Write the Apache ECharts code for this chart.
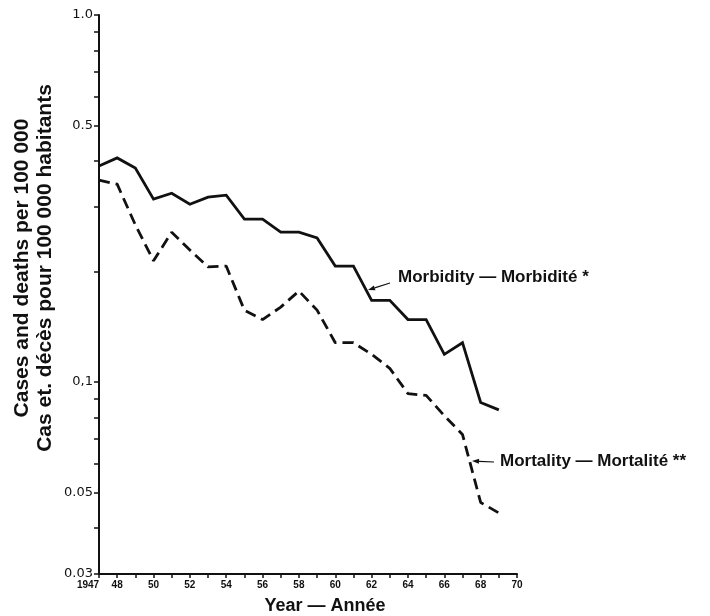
<!DOCTYPE html>
<html>
<head>
    <meta charset="utf-8">
    <title>Morbidity and mortality 1947-1969</title>
    <script src="https://cdn.jsdelivr.net/npm/echarts@6/dist/echarts.min.js"></script>
    <style type="text/css">
        html, body { margin: 0; padding: 0; background: #fff; }
        #main { width: 710px; height: 616px; }
    </style>
</head>
<body>
<div id="main"></div>
<script>
    // data (log scale)
    var years = [1947, 1948, 1949, 1950, 1951, 1952, 1953, 1954, 1955, 1956, 1957, 1958,
        1959, 1960, 1961, 1962, 1963, 1964, 1965, 1966, 1967, 1968, 1969];
    var morbidity = [0.388, 0.408, 0.383, 0.315, 0.327, 0.305, 0.319, 0.323, 0.278, 0.278, 0.256, 0.256,
        0.247, 0.207, 0.207, 0.167, 0.167, 0.148, 0.148, 0.119, 0.128, 0.088, 0.084];
    var mortality = [0.355, 0.346, 0.268, 0.214, 0.256, 0.229, 0.206, 0.207, 0.157, 0.148, 0.160, 0.177,
        0.157, 0.128, 0.128, 0.119, 0.109, 0.093, 0.092, 0.081, 0.072, 0.047, 0.044];

    // tick labels
    var yLabelValues = [0.03, 0.05, 0.1, 0.5, 1.0];
    var yLabelTexts = ['0.03', '0.05', '0,1', '0.5', '1.0'];
    var yTickValues = [0.03, 0.04, 0.05, 0.06, 0.07, 0.08, 0.09, 0.1, 0.2, 0.3, 0.4, 0.5,
        0.6, 0.7, 0.8, 0.9, 1.0];

    var FONT = '"Liberation Sans", Arial, Helvetica, sans-serif';
    var WIDE = '"DejaVu Sans", sans-serif';

    var chart = echarts.init(document.getElementById('main'), null, {renderer: 'canvas'});

    function pairs(vals) {
        return years.map(function (y, i) { return [y, vals[i]]; });
    }

    // small arrow, head at (tx, ty)
    function arrow(sx, sy, tx, ty) {
        var dx = tx - sx, dy = ty - sy;
        var len = Math.sqrt(dx * dx + dy * dy);
        var ux = dx / len, uy = dy / len;
        var bx = tx - ux * 7, by = ty - uy * 7;
        return [
            {
                type: 'line',
                shape: {x1: sx, y1: sy, x2: bx, y2: by},
                style: {stroke: '#111', lineWidth: 1.2}
            },
            {
                type: 'polygon',
                shape: {points: [[tx, ty], [bx - uy * 2.5, by + ux * 2.5], [bx + uy * 2.5, by - ux * 2.5]]},
                style: {fill: '#111'}
            }
        ];
    }

    var option = {
        backgroundColor: '#fff',
        animation: false,
        grid: {left: 99, right: 193, top: 15, bottom: 42},
        xAxis: {
            type: 'value',
            min: 1947,
            max: 1970,
            interval: 1,
            splitLine: {show: false},
            axisLine: {lineStyle: {color: '#111', width: 2}},
            axisTick: {length: 4, lineStyle: {color: '#111', width: 1.5}},
            axisLabel: {
                color: '#111',
                fontFamily: FONT,
                fontWeight: 'bold',
                fontSize: 10,
                margin: 6,
                formatter: function (v) {
                    if (v === 1947) return '{f|1947}';
                    if (v === 1948 || v % 2 === 0) return String(v).slice(2);
                    return '';
                },
                rich: {
                    f: {fontFamily: FONT, fontWeight: 'bold', fontSize: 10, color: '#111', padding: [0, 22, 0, 0]}
                }
            }
        },
        yAxis: {
            type: 'log',
            logBase: 10,
            min: 0.03,
            max: 1.0,
            splitLine: {show: false},
            axisLine: {show: true, lineStyle: {color: '#111', width: 2}},
            axisTick: {show: true, length: 5, customValues: yTickValues, lineStyle: {color: '#111', width: 1.5}},
            minorTick: {show: false},
            axisLabel: {
                color: '#111',
                fontFamily: WIDE,
                fontSize: 13,
                margin: 6,
                customValues: yLabelValues,
                formatter: function (v) {
                    for (var i = 0; i < yLabelValues.length; i++) {
                        if (Math.abs(yLabelValues[i] - v) < 1e-6) return yLabelTexts[i];
                    }
                    return '';
                }
            }
        },
        series: [
            {
                name: 'Morbidity',
                type: 'line',
                data: pairs(morbidity),
                symbol: 'none',
                lineStyle: {color: '#111', width: 2.8, join: 'miter'}
            },
            {
                name: 'Mortality',
                type: 'line',
                data: pairs(mortality),
                symbol: 'none',
                lineStyle: {color: '#111', width: 2.8, type: [11, 6]}
            }
        ],
        graphic: [].concat(
            [
                {
                    type: 'text',
                    x: 22, y: 268, rotation: Math.PI / 2,
                    style: {
                        text: 'Cases and deaths per 100 000',
                        font: 'bold 21px ' + FONT,
                        fill: '#111', align: 'center', verticalAlign: 'middle'
                    }
                },
                {
                    type: 'text',
                    x: 45, y: 268, rotation: Math.PI / 2,
                    style: {
                        text: 'Cas et. décès pour 100 000 habitants',
                        font: 'bold 21px ' + FONT,
                        fill: '#111', align: 'center', verticalAlign: 'middle'
                    }
                },
                {
                    type: 'text',
                    x: 325, y: 606,
                    style: {
                        text: 'Year \u2014 Ann\u00e9e',
                        font: 'bold 18px ' + FONT,
                        fill: '#111', align: 'center', verticalAlign: 'middle'
                    }
                },
                {
                    type: 'text',
                    x: 398, y: 277,
                    style: {
                        text: 'Morbidity \u2014 Morbidit\u00e9 *',
                        font: 'bold 17px ' + FONT,
                        fill: '#111', align: 'left', verticalAlign: 'middle'
                    }
                },
                {
                    type: 'text',
                    x: 500, y: 461,
                    style: {
                        text: 'Mortality \u2014 Mortalit\u00e9 **',
                        font: 'bold 17px ' + FONT,
                        fill: '#111', align: 'left', verticalAlign: 'middle'
                    }
                }
            ],
            arrow(390, 283, 368, 290),
            arrow(494, 462, 472, 461)
        )
    };

    chart.setOption(option);
</script>
</body>
</html>
